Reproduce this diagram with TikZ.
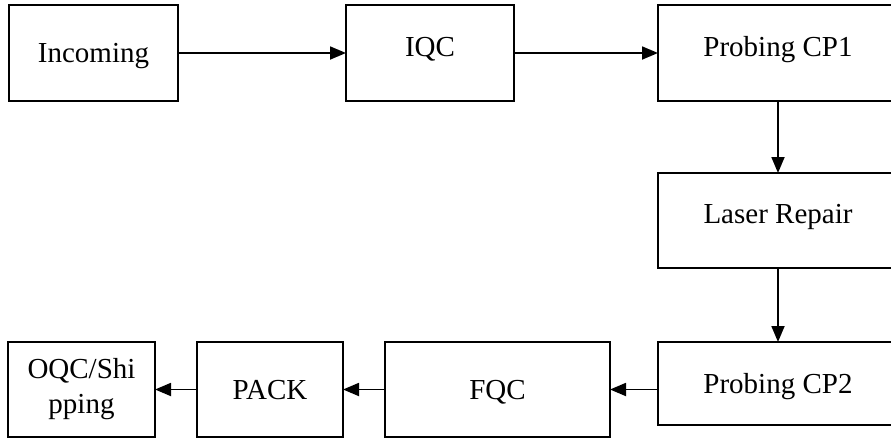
\documentclass[tikz,border=0pt]{standalone}
\usepackage{fontspec}
\setmainfont{Liberation Serif}
\usetikzlibrary{arrows.meta}

\begin{document}
\begin{tikzpicture}[
    x=0.5pt, y=-0.5pt,
    flowbox/.style={
        draw,
        line width=1pt,
        font=\fontsize{14.5}{17.5}\selectfont,
        inner sep=0pt,
        outer sep=0pt
    },
    stepbox/.style={flowbox, text height=9.6pt, text depth=0pt},
    highbox/.style={flowbox, text height=9.6pt, text depth=6.6pt},
    flow/.style={-{Triangle[length=8pt, width=6.5pt]}, line width=0.9pt}
]
\clip (0,0) rectangle (891,439);

% top row
\node[stepbox, minimum width=84.5pt, minimum height=48pt] (incoming) at (93.5,53) {Incoming};
\node[highbox, minimum width=84pt, minimum height=48pt] (iqc) at (430,53) {IQC};
\node[highbox, minimum width=120pt, minimum height=48pt] (cp1) at (778,53) {Probing CP1};

% right column
\node[highbox, minimum width=120pt, minimum height=47.5pt] (laser) at (778,220.5) {Laser Repair};
\node[stepbox, minimum width=120pt, minimum height=41.5pt] (cp2) at (778,383.5) {Probing CP2};

% bottom row
\node[stepbox, minimum width=112.5pt, minimum height=47.5pt] (fqc) at (497.5,389.5) {FQC};
\node[stepbox, minimum width=73pt, minimum height=47.5pt] (pack) at (270,389.5) {PACK};
\node[flowbox, align=center, minimum width=73.5pt, minimum height=47.5pt] (oqc) at (81.5,389.5) {OQC/Shi\\pping};

\draw[flow] (incoming) -- (iqc);
\draw[flow] (iqc) -- (cp1);
\draw[flow] (cp1) -- (laser);
\draw[flow] (laser) -- (cp2);
\draw[flow] (cp2.west |- fqc.east) -- (fqc.east);
\draw[flow] (fqc) -- (pack);
\draw[flow] (pack) -- (oqc);

\end{tikzpicture}
\end{document}
